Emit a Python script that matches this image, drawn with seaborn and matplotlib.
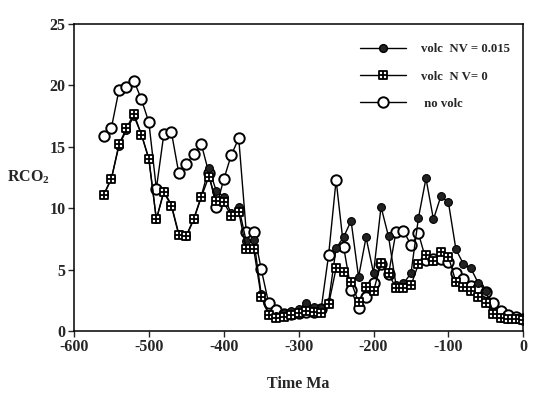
import matplotlib
matplotlib.use("Agg")
import matplotlib.pyplot as plt
from matplotlib.path import Path
from matplotlib.lines import Line2D
import seaborn as sns
import pandas as pd

# ---- data ----
time_ma = [-560, -550, -540, -530, -520, -510, -500, -490, -480, -470,
           -460, -450, -440, -430, -420, -410, -400, -390, -380, -370,
           -360, -350, -340, -330, -320, -310, -300, -290, -280, -270,
           -260, -250, -240, -230, -220, -210, -200, -190, -180, -170,
           -160, -150, -140, -130, -120, -110, -100, -90, -80, -70,
           -60, -50, -40, -30, -20, -10, 0]

volc_nv_0015 = [11.16, 12.43, 15.07, 16.37, 17.5, 16.04, 14.03, 9.1, 11.4, 10.29,
                7.9, 7.77, 9.15, 10.99, 13.25, 11.42, 10.94, 9.58, 10.1, 7.3,
                7.45, 3.0, 1.38, 1.2, 1.45, 1.65, 1.76, 2.3, 1.95, 1.9,
                2.39, 6.73, 7.65, 8.97, 4.4, 7.63, 4.72, 10.12, 7.7, 3.75,
                3.88, 4.7, 9.23, 12.43, 9.1, 11.0, 10.47, 6.65, 5.46, 5.1,
                3.88, 3.26, 1.5, 1.1, 1.0, 1.03, 0.9]

volc_nv_0 = [11.1, 12.4, 15.2, 16.5, 17.7, 16.0, 14.0, 9.1, 11.3, 10.2,
             7.8, 7.7, 9.1, 10.9, 12.57, 10.6, 10.47, 9.4, 9.7, 6.68,
             6.68, 2.8, 1.3, 1.1, 1.17, 1.3, 1.44, 1.66, 1.57, 1.44,
             2.17, 5.1, 4.78, 4.02, 2.33, 3.56, 3.26, 5.51, 4.7, 3.47,
             3.47, 3.72, 5.46, 6.19, 5.7, 6.46, 6.05, 4.0, 3.55, 3.25,
             2.75, 2.3, 1.38, 1.03, 0.98, 0.98, 0.9]

no_volc = [15.88, 16.56, 19.6, 19.9, 20.4, 18.87, 17.0, 11.59, 16.04, 16.23,
           12.84, 13.62, 14.39, 15.23, 12.9, 10.1, 12.35, 14.33, 15.69, 8.09,
           8.09, 5.05, 2.25, 1.68, 1.35, 1.4, 1.5, 1.57, 1.57, 1.79,
           6.19, 12.3, 6.87, 3.34, 1.85, 2.8, 3.88, 5.43, 4.61, 8.09,
           8.17, 7.0, 7.95, 5.8, 5.9, 5.84, 5.65, 4.7, 4.2, 3.7,
           3.5, 3.2, 2.25, 1.63, 1.3, 1.17, 0.98]

labels = ["volc  NV = 0.015", "volc  N V= 0", " no volc"]
x_ticks = [-600, -500, -400, -300, -200, -100, 0]
y_ticks = [0, 5, 10, 15, 20, 25]

# ---- style ----
sns.set_style("ticks")
plt.rcParams["font.family"] = ["Liberation Serif", "DejaVu Serif"]
plt.rcParams["font.weight"] = "bold"
plt.rcParams["mathtext.fontset"] = "custom"
plt.rcParams["mathtext.rm"] = "Liberation Serif:bold"
plt.rcParams["mathtext.bf"] = "Liberation Serif:bold"
plt.rcParams["mathtext.it"] = "Liberation Serif:bold"

df = pd.DataFrame({"t": time_ma, "a": volc_nv_0015, "b": volc_nv_0, "c": no_volc})

# square-with-cross marker
sq_verts = [(-1, -1), (1, -1), (1, 1), (-1, 1), (-1, -1),
            (0, -1), (0, 1), (-1, 0), (1, 0)]
sq_codes = [Path.MOVETO, Path.LINETO, Path.LINETO, Path.LINETO, Path.CLOSEPOLY,
            Path.MOVETO, Path.LINETO, Path.MOVETO, Path.LINETO]
box_plus = Path(sq_verts, sq_codes)

fig = plt.figure(figsize=(5.5, 3.95), dpi=100)
ax = fig.add_axes([0.1345, 0.162, 0.817, 0.777])

sns.lineplot(data=df, x="t", y="c", ax=ax, color="black", lw=1.0,
             marker="o", markersize=7.5, markerfacecolor="white",
             markeredgecolor="black", markeredgewidth=1.4, zorder=2)
sns.lineplot(data=df, x="t", y="a", ax=ax, color="black", lw=1.0,
             marker="o", markersize=5.6, markerfacecolor="#222222",
             markeredgecolor="black", markeredgewidth=0.8, zorder=3)
sns.lineplot(data=df, x="t", y="b", ax=ax, color="black", lw=1.0,
             marker=box_plus, markersize=5.4, markerfacecolor="white",
             markeredgecolor="black", markeredgewidth=1.3, zorder=4)

ax.set_xlim(-600, 0)
ax.set_ylim(0, 25)
ax.set_xticks(x_ticks)
ax.set_yticks(y_ticks)
ax.set_xticklabels([str(v) for v in x_ticks], fontsize=11.5, fontweight="bold")
ax.set_yticklabels([str(v) for v in y_ticks], fontsize=11.5, fontweight="bold")
ax.tick_params(axis="both", direction="out", length=4, width=1.0, pad=2,
               top=False, right=False)
for s in ax.spines.values():
    s.set_linewidth(1.1)
    s.set_color("black")

ax.set_xlabel("Time Ma", fontsize=11.5, fontweight="bold", labelpad=15)
ax.set_ylabel("RCO$_2$", fontsize=11.5, fontweight="bold", rotation=0,
              ha="center", va="center")
ax.yaxis.set_label_coords(-0.102, 0.5)

handles = [
    Line2D([], [], color="black", lw=1.0, marker="o", markersize=5.6,
           markerfacecolor="#222222", markeredgecolor="black"),
    Line2D([], [], color="black", lw=1.0, marker=box_plus, markersize=5.4,
           markerfacecolor="white", markeredgecolor="black", markeredgewidth=1.3),
    Line2D([], [], color="black", lw=1.0, marker="o", markersize=7.5,
           markerfacecolor="white", markeredgecolor="black", markeredgewidth=1.4),
]
ax.legend(handles, labels, loc="upper left", bbox_to_anchor=(0.61, 0.975),
          frameon=False, prop={"family": "Liberation Serif", "weight": "bold", "size": 9.2},
          handlelength=3.6, handletextpad=1.2, labelspacing=1.2, borderpad=0.4)

fig.savefig("out.png", dpi=100)
